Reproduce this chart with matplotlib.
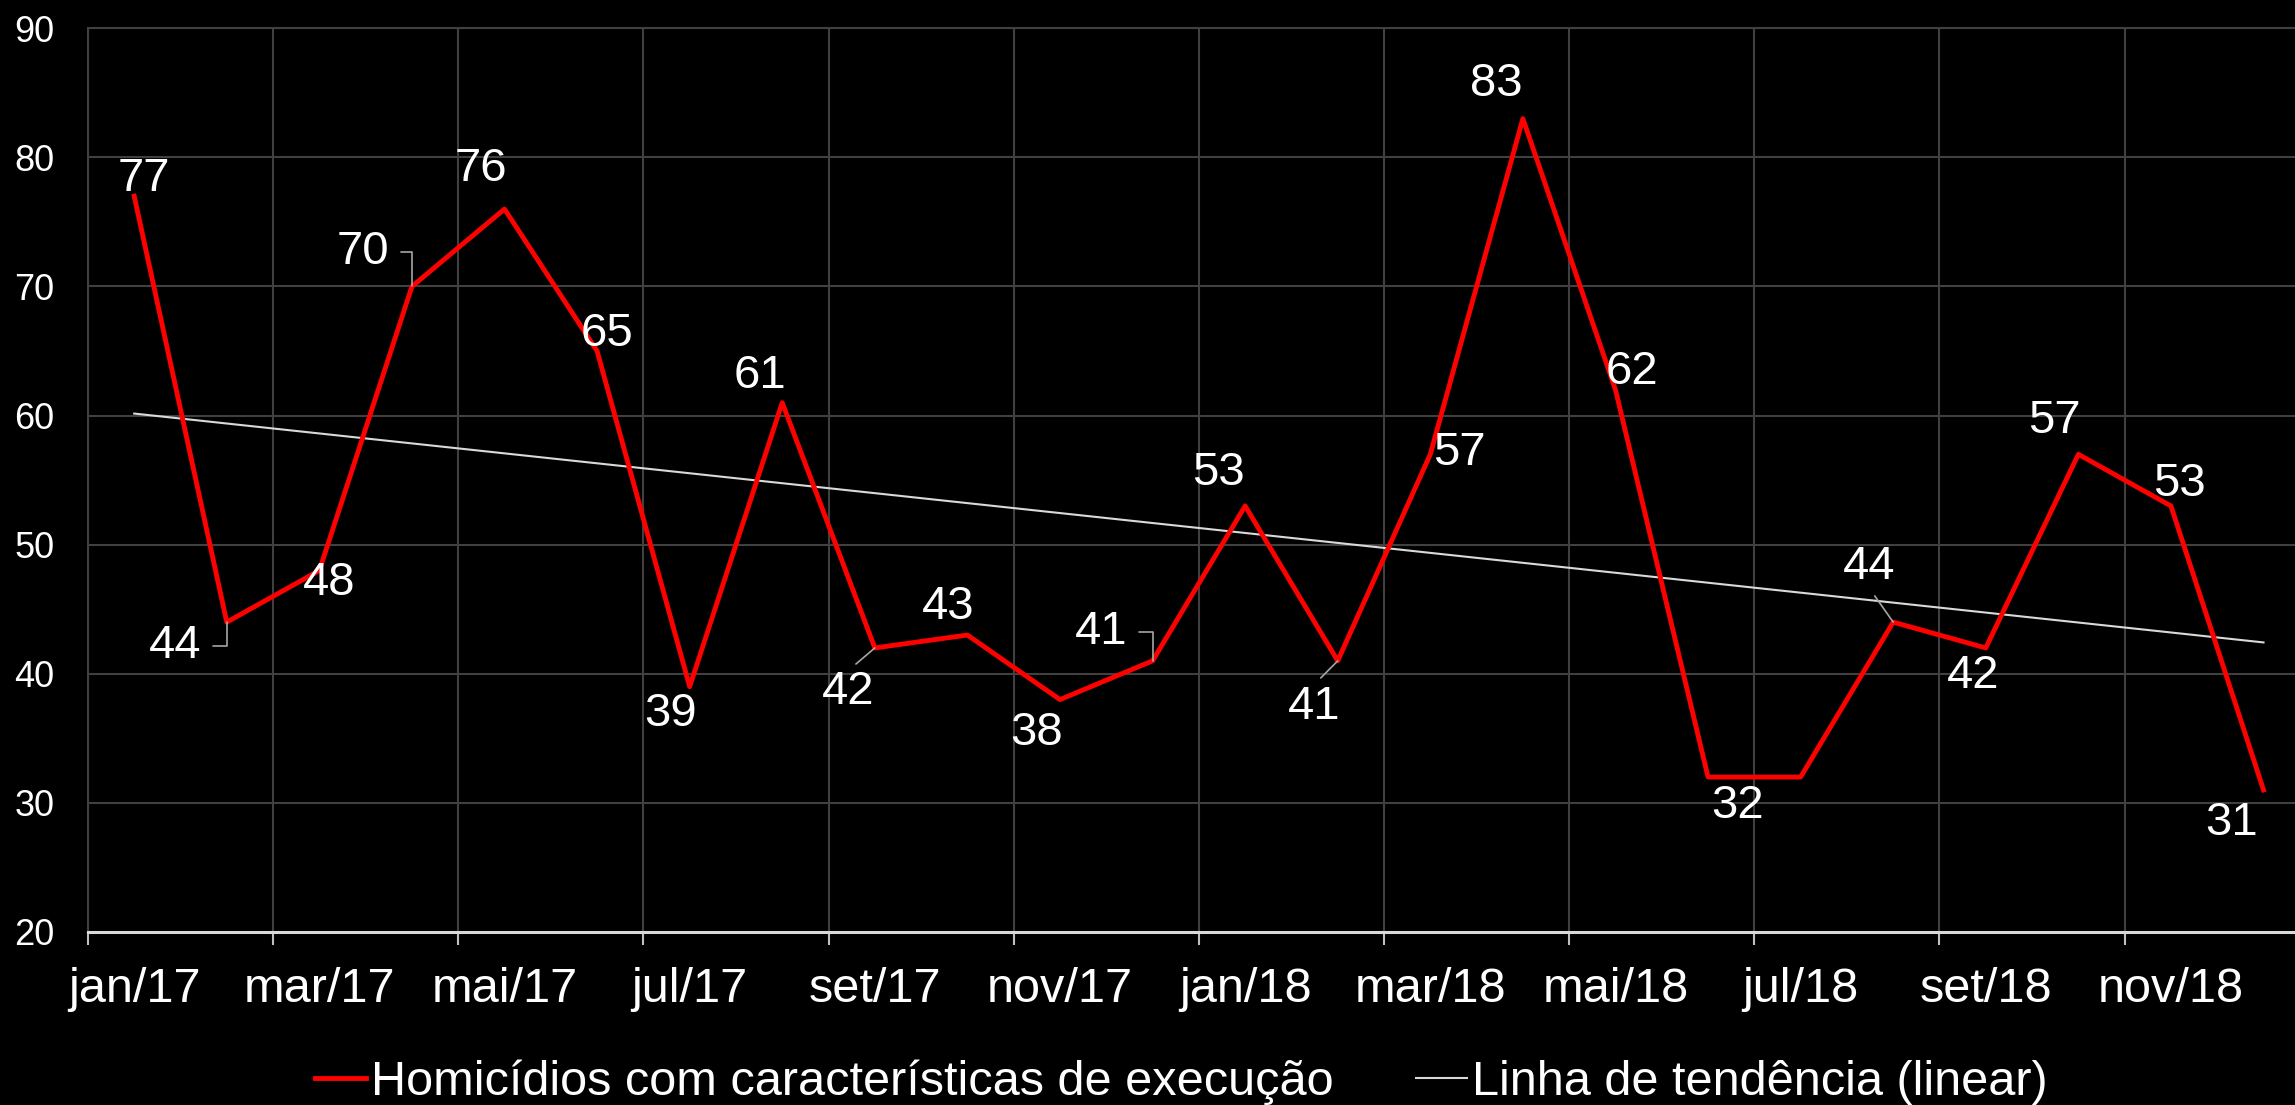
import numpy as np
import matplotlib.pyplot as plt

plt.rcParams['font.family'] = ['Liberation Sans', 'DejaVu Sans']

# dados mensais
meses = ['jan/17', 'fev/17', 'mar/17', 'abr/17', 'mai/17', 'jun/17',
         'jul/17', 'ago/17', 'set/17', 'out/17', 'nov/17', 'dez/17',
         'jan/18', 'fev/18', 'mar/18', 'abr/18', 'mai/18', 'jun/18',
         'jul/18', 'ago/18', 'set/18', 'out/18', 'nov/18', 'dez/18']
homicidios = [77, 44, 48, 70, 76, 65, 39, 61, 42, 43, 38, 41,
              53, 41, 57, 83, 62, 32, 32, 44, 42, 57, 53, 31]
serie_nome = 'Homicídios com características de execução'
tend_nome = 'Linha de tendência (linear)'

x = np.arange(len(meses))
coef = np.polyfit(x, homicidios, 1)  # tendencia linear
tendencia = np.polyval(coef, x)

# posicao dos rotulos (offset em pontos), None = sem rotulo
offsets = [(7, 12), (-37, -17), (7, -9), (-35, 25), (-17, 29), (7, 12),
           (-14, -20), (-16, 19), (-19, -32), (-14, 20), (-17, -24), (-37, 21),
           (-19, 24), (-17, -33), (21, 1), (-19, 25), (12, 13), (21, -21),
           None, (-17, 40), (-9, -20), (-17, 24), (6, 16), (-23, -24)]
guias = {1: 'cotovelo', 3: 'cotovelo', 11: 'cotovelo',
         8: 'cima', 13: 'cima', 19: 'baixo'}

cor_grade = '#404040'

fig = plt.figure(figsize=(22.95, 11.05), dpi=100, facecolor='black')
ax = fig.add_axes([0.0383, 0.1566, 1 - 0.0383, 0.9744 - 0.1566])
ax.set_facecolor('black')

ax.plot(x, homicidios, color='#FF0000', lw=3.5, label=serie_nome, zorder=4)
ax.plot(x, tendencia, color='#D9D9D9', lw=1.5, label=tend_nome, zorder=3)

ax.set_xlim(-0.5, 23.34)
ax.set_ylim(20, 90)
ax.set_yticks(range(20, 91, 10))
ax.set_xticks(x[::2])
ax.set_xticklabels(meses[::2])
ax.set_xticks(np.arange(-0.5, 23, 2), minor=True)

ax.tick_params(axis='x', which='major', length=0, pad=25, labelsize=35, labelcolor='white')
ax.tick_params(axis='x', which='minor', length=9.5, width=1.5, color='#BFBFBF', direction='out')
ax.tick_params(axis='y', length=0, pad=24, labelsize=26, labelcolor='white')

ax.grid(True, which='minor', axis='x', color=cor_grade, lw=1.5)
ax.grid(True, which='major', axis='y', color=cor_grade, lw=1.5)
ax.set_axisbelow(True)

ax.spines['right'].set_visible(False)
ax.spines['top'].set_color(cor_grade)
ax.spines['top'].set_linewidth(1.5)
ax.spines['left'].set_color(cor_grade)
ax.spines['left'].set_linewidth(1.5)
ax.spines['bottom'].set_color('#D9D9D9')
ax.spines['bottom'].set_linewidth(2.2)

# rotulos de dados
for i, v in enumerate(homicidios):
    if offsets[i] is None:
        continue
    props = None
    tipo = guias.get(i)
    if tipo == 'cotovelo':
        props = dict(arrowstyle='-', color='#A6A6A6', lw=1.2, relpos=(1, 0.5),
                     connectionstyle='angle,angleA=0,angleB=90,rad=0', shrinkA=6, shrinkB=0)
    elif tipo == 'cima':
        props = dict(arrowstyle='-', color='#A6A6A6', lw=1.2, relpos=(0.5, 1),
                     shrinkA=4, shrinkB=0)
    elif tipo == 'baixo':
        props = dict(arrowstyle='-', color='#A6A6A6', lw=1.2, relpos=(0.5, 0),
                     shrinkA=4, shrinkB=0)
    ax.annotate(str(v), xy=(x[i], v), xytext=offsets[i], textcoords='offset points',
                ha='center', va='center', fontsize=34, color='white',
                arrowprops=props, zorder=5)

fig.legend(loc='center', bbox_to_anchor=(0.5146, 0.021), ncol=2, frameon=False,
           fontsize=35, handlelength=1.05, handletextpad=0.1, columnspacing=1.7,
           labelcolor='white', borderpad=0)

fig.savefig('out.png', dpi=100, facecolor='black')
